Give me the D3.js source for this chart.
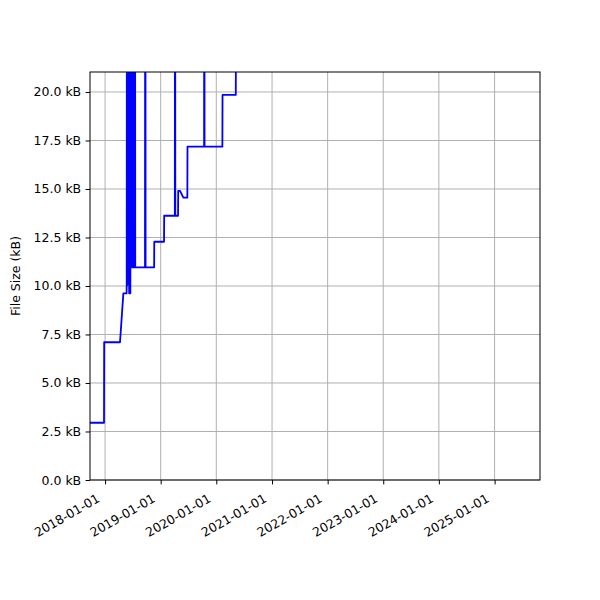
<!DOCTYPE html>
<html>
<head>
<meta charset="utf-8">
<script src="https://d3js.org/d3.v7.min.js"></script>
<style>
  body { margin: 0; background: #fff; }
  text { font-family: "DejaVu Sans", sans-serif; }
</style>
</head>
<body>
<div id="chart"></div>
<script>
// file size history (kB); values above 21 kB are clipped
var dates = [
  "2017-09-24", "2017-12-25", "2017-12-26", "2018-04-09", "2018-05-01", "2018-05-22",
  "2018-05-23", "2018-05-25", "2018-05-27", "2018-05-29", "2018-05-31", "2018-06-02",
  "2018-06-04", "2018-06-06", "2018-06-08", "2018-06-10", "2018-06-12", "2018-06-14",
  "2018-06-16", "2018-06-18", "2018-06-20", "2018-06-22", "2018-06-24", "2018-06-26",
  "2018-06-28", "2018-06-30", "2018-07-02", "2018-07-04", "2018-07-06", "2018-07-08",
  "2018-07-10", "2018-07-12", "2018-07-14", "2018-07-16", "2018-07-18", "2018-07-20",
  "2018-09-20", "2018-09-22", "2018-09-24", "2018-11-19", "2018-11-20",
  "2019-01-23", "2019-01-24", "2019-04-04", "2019-04-05", "2019-04-07",
  "2019-04-25", "2019-04-26", "2019-05-08", "2019-05-30", "2019-06-25", "2019-06-26",
  "2019-10-13", "2019-10-14", "2019-10-16", "2020-02-10", "2020-02-11",
  "2020-05-08", "2020-05-09", "2021-03-01", "2022-06-01", "2023-09-01", "2025-06-01"
];
var sizes = [
  2.95, 2.95, 7.10, 7.10, 9.62, 9.62,
  10.05, 40.0, 10.05, 40.0, 10.96, 40.0,
  10.96, 40.0, 9.62, 40.0, 10.96, 40.0,
  9.62, 40.0, 10.96, 40.0, 10.96, 40.0,
  10.96, 40.0, 10.96, 40.0, 10.96, 40.0,
  10.96, 40.0, 10.96, 40.0, 10.96, 10.96,
  10.96, 40.0, 10.96, 10.96, 12.28,
  12.28, 13.62, 13.62, 40.0, 13.62,
  13.62, 14.90, 14.90, 14.55, 14.55, 17.18,
  17.18, 40.0, 17.18, 17.18, 19.85,
  19.85, 22.4, 24.0, 26.5, 28.0, 30.0
];
var xTicks = ["2018-01-01", "2019-01-01", "2020-01-01", "2021-01-01",
              "2022-01-01", "2023-01-01", "2024-01-01", "2025-01-01"];
var yTicks = [0, 2.5, 5, 7.5, 10, 12.5, 15, 17.5, 20];

var margin = {top: 72, right: 60, bottom: 120, left: 90},
    width = 600 - margin.left - margin.right,
    height = 600 - margin.top - margin.bottom;

var parse = d3.utcParse("%Y-%m-%d");
var data = dates.map(function(d, i) { return {date: parse(d), size: sizes[i]}; });

var svg = d3.select("#chart").append("svg")
    .attr("width", 600).attr("height", 600);
var g = svg.append("g")
    .attr("transform", "translate(" + margin.left + "," + margin.top + ")");

var x = d3.scaleUtc()
    .domain([parse("2017-09-24"), parse("2025-10-26")])
    .range([0, width]);
var y = d3.scaleLinear().domain([0, 21.03]).range([height, 0]);

// grid
g.append("g").selectAll("line").data(xTicks).enter().append("line")
    .attr("x1", function(d) { return x(parse(d)); })
    .attr("x2", function(d) { return x(parse(d)); })
    .attr("y1", 0).attr("y2", height)
    .attr("stroke", "#b0b0b0").attr("stroke-width", 1);
g.append("g").selectAll("line").data(yTicks).enter().append("line")
    .attr("x1", 0).attr("x2", width)
    .attr("y1", function(d) { return y(d); })
    .attr("y2", function(d) { return y(d); })
    .attr("stroke", "#b0b0b0").attr("stroke-width", 1);

// line, clipped to the axes
g.append("clipPath").attr("id", "clip")
  .append("rect").attr("width", width).attr("height", height);
g.append("path")
    .datum(data)
    .attr("clip-path", "url(#clip)")
    .attr("fill", "none")
    .attr("stroke", "#0000ff")
    .attr("stroke-width", 1.8)
    .attr("stroke-linejoin", "round")
    .attr("d", d3.line()
        .x(function(d) { return x(d.date); })
        .y(function(d) { return y(d.size); }));

// axes
var xAxis = g.append("g")
    .attr("transform", "translate(0," + height + ")")
    .call(d3.axisBottom(x)
        .tickValues(xTicks.map(parse))
        .tickFormat(d3.utcFormat("%Y-%m-%d"))
        .tickSize(4.4).tickPadding(4.4));
xAxis.selectAll("text")
    .attr("font-size", "12.5px")
    .attr("fill", "#000")
    .style("text-anchor", "end")
    .attr("y", 0).attr("dy", 0)
    .attr("transform", "translate(-5,21) rotate(-30)");

var yAxis = g.append("g")
    .call(d3.axisLeft(y)
        .tickValues(yTicks)
        .tickFormat(function(d) { return d3.format(".1f")(d) + " kB"; })
        .tickSize(4.4).tickPadding(4.4));
yAxis.selectAll("text").attr("font-size", "12.5px").attr("fill", "#000");

[xAxis, yAxis].forEach(function(a) {
  a.select(".domain").remove();
  a.selectAll(".tick line").attr("stroke", "#000").attr("stroke-width", 1);
});

// frame
g.append("rect")
    .attr("width", width).attr("height", height)
    .attr("fill", "none").attr("stroke", "#000").attr("stroke-width", 1);

svg.append("text")
    .attr("transform", "translate(20," + (margin.top + height / 2) + ") rotate(-90)")
    .attr("text-anchor", "middle")
    .attr("font-size", "12.5px")
    .text("File Size (kB)");
</script>
</body>
</html>
